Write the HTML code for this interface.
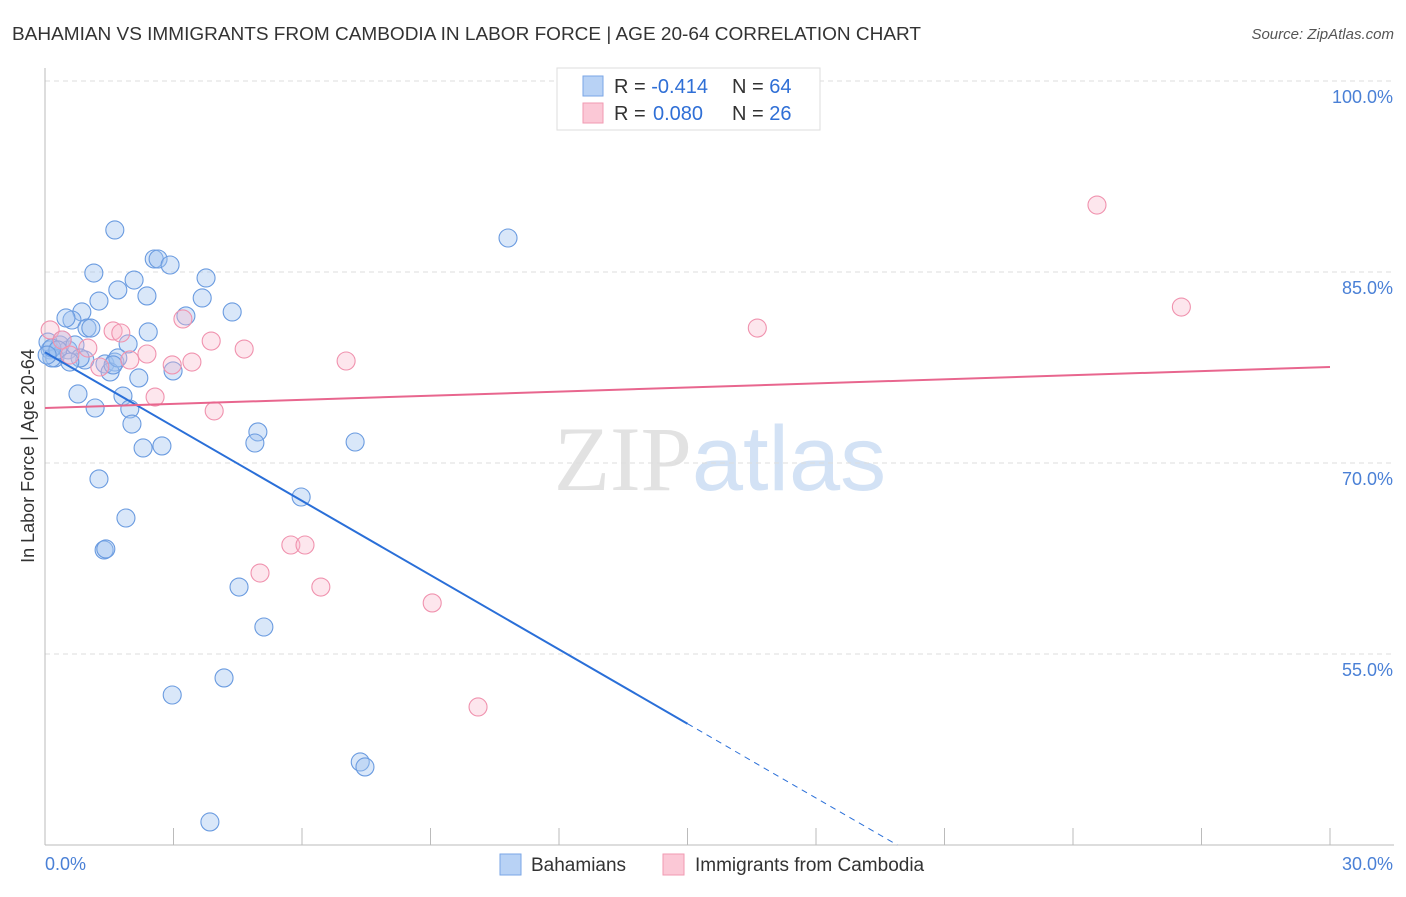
<!DOCTYPE html>
<html><head><meta charset="utf-8"><style>
body{margin:0;background:#fff;font-family:"Liberation Sans",sans-serif}
svg text{font-family:"Liberation Sans",sans-serif}
</style></head><body>
<svg id="chart" width="1406" height="892" xmlns="http://www.w3.org/2000/svg">
<text x="12" y="40" font-size="18" fill="#333" textLength="909" lengthAdjust="spacingAndGlyphs">BAHAMIAN VS IMMIGRANTS FROM CAMBODIA IN LABOR FORCE | AGE 20-64 CORRELATION CHART</text>
<text x="1394" y="39" font-size="15" fill="#555" font-style="italic" text-anchor="end">Source: ZipAtlas.com</text>
<text x="720" y="490" font-size="92" text-anchor="middle"><tspan fill="#e2e2e2" font-family="Liberation Serif">ZIP</tspan><tspan fill="#d3e2f5">atlas</tspan></text>
<g id="grid"></g>
<g id="axes"></g>
<g id="pts"></g>
<text transform="translate(34,456) rotate(-90)" font-size="18" fill="#333" text-anchor="middle">In Labor Force | Age 20-64</text>
<g>
<rect x="557" y="68" width="263" height="62" fill="#fff" stroke="#ddd"/>
<rect x="583" y="76" width="20" height="20" fill="#b8d2f5" stroke="#7aa6e6"/>
<rect x="583" y="103" width="20" height="20" fill="#fbc8d6" stroke="#f09ab2"/>
<text x="614" y="93" font-size="20" fill="#333">R = <tspan fill="#2f6fd6">-0.414</tspan><tspan x="732">N = </tspan><tspan fill="#2f6fd6">64</tspan></text>
<text x="614" y="120" font-size="20" fill="#333">R = <tspan fill="#2f6fd6" x="653">0.080</tspan><tspan x="732">N = </tspan><tspan fill="#2f6fd6">26</tspan></text>
</g>
<g>
<rect x="500" y="854" width="21" height="21" fill="#b8d2f5" stroke="#7aa6e6"/>
<text x="531" y="871" font-size="19" fill="#333">Bahamians</text>
<rect x="663" y="854" width="21" height="21" fill="#fbc8d6" stroke="#f09ab2"/>
<text x="695" y="871" font-size="19" fill="#333">Immigrants from Cambodia</text>
</g>
</svg>
<script>
const yTicks=[55,70,85,100];
const yTickLabels=["55.0%","70.0%","85.0%","100.0%"];
const xTicks=[0,3,6,9,12,15,18,21,24,27,30];
const xEndLabels=["0.0%","30.0%"];
const blueX=[1.63,1.14,2.55,2.64,2.92,3.76,2.08,2.38,1.26,1.70,3.67,4.37,0.86,0.63,0.98,1.07,2.41,3.29,1.94,0.35,0.54,0.12,0.23,0.16,0.93,1.40,1.63,1.52,2.99,2.19,0.77,1.82,1.17,1.98,2.03,4.97,4.90,2.29,2.73,7.24,10.81,1.26,5.98,1.89,1.38,1.42,4.53,5.11,4.18,2.97,7.36,7.47,3.85,0.07,0.40,0.70,1.70,0.16,0.49,0.82,0.30,1.59,0.05,0.58];
const blueY=[88.30,84.92,86.02,86.02,85.55,84.53,84.37,83.12,82.72,83.59,82.96,81.86,81.86,81.23,80.60,80.60,80.29,81.55,79.35,79.27,78.88,78.88,78.25,78.25,78.09,77.78,77.93,77.15,77.23,76.68,75.42,75.26,74.32,74.24,73.06,72.44,71.57,71.18,71.34,71.65,87.67,68.75,67.33,65.68,63.17,63.25,60.26,57.12,53.12,51.78,46.52,46.13,41.81,79.50,79.66,79.27,78.25,79.03,81.39,78.25,78.88,77.70,78.48,77.93];
const pinkX=[24.56,26.53,16.63,0.12,1.59,1.77,3.22,3.88,4.65,2.38,1.98,2.97,3.43,7.03,1.00,0.40,2.57,3.95,5.74,6.07,5.02,6.44,9.04,10.11,1.28,0.58];
const pinkY=[90.26,82.25,80.60,80.45,80.37,80.21,81.31,79.58,78.95,78.56,78.09,77.70,77.93,78.01,79.03,79.66,75.18,74.09,63.56,63.56,61.36,60.26,59.01,50.84,77.54,78.48];
const blueTrend=[78.7,-1.945];
const pinkTrend=[74.32,0.1073];
const X0=45,X1=1330,Y100=81,PXPER15=191;
const sx=v=>X0+(v/30)*(X1-X0);
const sy=v=>Y100+(100-v)/15*PXPER15;
const NS="http://www.w3.org/2000/svg";
function mk(tag,attrs,parent){const e=document.createElementNS(NS,tag);for(const k in attrs)e.setAttribute(k,attrs[k]);parent.appendChild(e);return e;}
const grid=document.getElementById('grid'),axes=document.getElementById('axes'),pts=document.getElementById('pts');
yTicks.forEach((t,i)=>{
 const l=mk('line',{x1:X0,x2:1394,y1:sy(t),y2:sy(t),stroke:'#ddd','stroke-dasharray':'5,4'},grid);
 
 
 const tx=mk('text',{x:1393,y:sy(t)+22,'font-size':18,fill:'#4a80d6','text-anchor':'end'},grid);
 tx.textContent=yTickLabels[i];
 
 
});
const ya=mk('line',{x1:X0,x2:X0,y1:68,y2:845,stroke:'#bbb'},axes);


const xa=mk('line',{x1:X0,x2:1394,y1:845,y2:845,stroke:'#bbb'},axes);


xTicks.forEach(t=>{
 const l=mk('line',{x1:sx(t),x2:sx(t),y1:828,y2:845,stroke:'#bbb'},axes);
 
 
});
const xl0=mk('text',{x:45,y:870,'font-size':18,fill:'#4a80d6'},axes);xl0.textContent=xEndLabels[0];


const xl1=mk('text',{x:1393,y:870,'font-size':18,fill:'#4a80d6','text-anchor':'end'},axes);xl1.textContent=xEndLabels[1];


blueX.forEach((v,i)=>{
 const c=mk('circle',{cx:sx(v),cy:sy(blueY[i]),r:9,fill:'rgba(160,196,240,0.4)',stroke:'#6a9be0','stroke-width':1.1},pts);
 
 
});
pinkX.forEach((v,i)=>{
 const c=mk('circle',{cx:sx(v),cy:sy(pinkY[i]),r:9,fill:'rgba(248,182,202,0.35)',stroke:'#f092ae','stroke-width':1.1},pts);
 
 
});
const bf=x=>blueTrend[0]+blueTrend[1]*x;
const xEnd=(40-blueTrend[0])/blueTrend[1];
const bl=mk('line',{x1:sx(0),y1:sy(bf(0)),x2:sx(15),y2:sy(bf(15)),stroke:'#2a6fd8','stroke-width':2},pts);


const bd=mk('line',{x1:sx(15),y1:sy(bf(15)),x2:sx(xEnd),y2:sy(bf(xEnd)),stroke:'#2a6fd8','stroke-width':1,'stroke-dasharray':'6,5'},pts);


const pf=x=>pinkTrend[0]+pinkTrend[1]*x;
const pl=mk('line',{x1:sx(0),y1:sy(pf(0)),x2:sx(30),y2:sy(pf(30)),stroke:'#e8668e','stroke-width':2},pts);


</script>
</body></html>
